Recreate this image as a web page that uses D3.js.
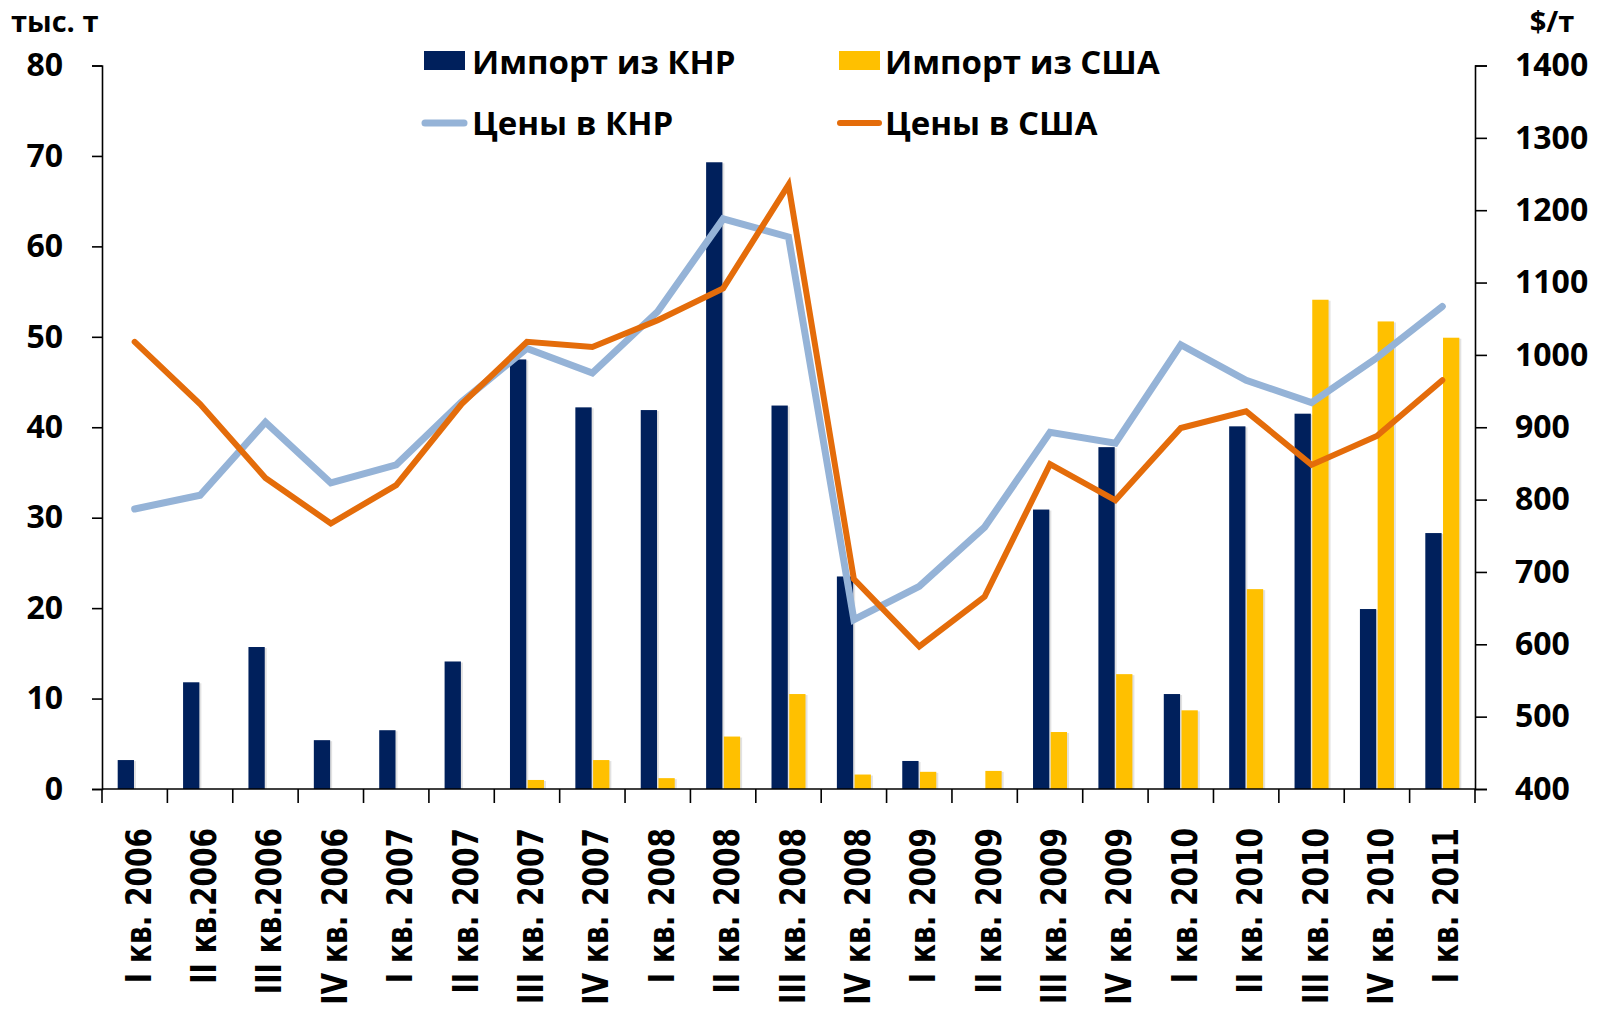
<!DOCTYPE html>
<html>
<head>
<meta charset="utf-8">
<script src="https://cdn.jsdelivr.net/npm/d3@7"></script>
<style>
  body { margin: 0; background: #fff; }
  text { font-family: "Open Sans", "DejaVu Sans", sans-serif; font-weight: 700; fill: #000; }
  .xlab text { font-family: "DejaVu Sans", sans-serif; }
</style>
</head>
<body>
<svg id="chart" width="1605" height="1016"></svg>
<script>
// Quarters (x axis labels)
const quarters = ['I кв. 2006', 'II кв.2006', 'III кв.2006', 'IV кв. 2006',
  'I кв. 2007', 'II кв. 2007', 'III кв. 2007', 'IV кв. 2007',
  'I кв. 2008', 'II кв. 2008', 'III кв. 2008', 'IV кв. 2008',
  'I кв. 2009', 'II кв. 2009', 'III кв. 2009', 'IV кв. 2009',
  'I кв. 2010', 'II кв. 2010', 'III кв. 2010', 'IV кв. 2010', 'I кв. 2011'];

// Import volumes, thousand tonnes (left axis)
const importCN = [3.2, 11.8, 15.7, 5.4, 6.5, 14.1, 47.5, 42.2, 41.9, 69.3, 42.4,
  23.5, 3.1, 0, 30.9, 37.8, 10.5, 40.1, 41.5, 19.9, 28.3];
const importUS = [0, 0, 0, 0, 0, 0, 1.0, 3.2, 1.2, 5.8, 10.5,
  1.6, 1.9, 2.0, 6.3, 12.7, 8.7, 22.1, 54.1, 51.7, 49.9];

// Prices, $/t (right axis)
const priceCN = [787, 806, 907, 823, 848, 935, 1009, 975, 1060, 1188, 1163,
  634, 680, 762, 893, 878, 1014, 965, 934, 996, 1067];
const priceUS = [1018, 932, 830, 767, 820, 932, 1018, 1011, 1048, 1092, 1235,
  690, 597, 666, 849, 799, 899, 922, 848, 888, 965];

const leftTicks = [0, 10, 20, 30, 40, 50, 60, 70, 80];
const rightTicks = [400, 500, 600, 700, 800, 900, 1000, 1100, 1200, 1300, 1400];

const colors = { cn: '#00205C', us: '#FFC000', pcn: '#95B3D7', pus: '#E46C0A' };

const svg = d3.select('#chart');
const margin = { left: 102, right: 130, top: 65.5, bottom: 227 };
const W = +svg.attr('width'), H = +svg.attr('height');
const x0 = margin.left, x1 = W - margin.right, yTop = margin.top, yBot = H - margin.bottom;

const x = d3.scaleBand().domain(quarters).range([x0, x1]).padding(0);
const xs = d3.scaleBand().domain(['cn', 'us'])
  .range([x.bandwidth() / 2 - 17, x.bandwidth() / 2 + 17]).paddingInner(0.08);
const yL = d3.scaleLinear().domain([0, 80]).range([yBot, yTop]);
const yR = d3.scaleLinear().domain([400, 1400]).range([yBot, yTop]);

// bars (with a light shadow like the original)
const series = [['cn', importCN], ['us', importUS]];
series.forEach(([key, vals]) => {
  const g = svg.append('g');
  vals.forEach((v, i) => {
    if (v <= 0) return;
    const bx = x(quarters[i]) + xs(key);
    g.append('rect')
      .attr('x', bx + 2).attr('y', yL(v) + 1)
      .attr('width', xs.bandwidth()).attr('height', yBot - yL(v) - 1)
      .attr('fill', '#cfcfcf').attr('opacity', 0.6);
    g.append('rect')
      .attr('x', bx).attr('y', yL(v))
      .attr('width', xs.bandwidth()).attr('height', yBot - yL(v))
      .attr('fill', colors[key]);
  });
});

// axes
const axL = svg.append('g').attr('transform', `translate(${x0},0)`)
  .call(d3.axisLeft(yL).tickValues(leftTicks).tickSize(10).tickPadding(29));
const axR = svg.append('g').attr('transform', `translate(${x1},0)`)
  .call(d3.axisRight(yR).tickValues(rightTicks).tickFormat(d3.format('d'))
    .tickSize(12).tickPadding(28));
[axL, axR].forEach(a => {
  a.selectAll('path, line').attr('stroke', '#000').attr('stroke-width', 1.6);
  a.selectAll('text').style('font-size', '32px').attr('fill', '#000');
});

const axB = svg.append('g').attr('class', 'xlab').attr('transform', `translate(0,${yBot})`)
  .call(d3.axisBottom(x).tickSize(0));
axB.select('.domain').attr('stroke', '#000').attr('stroke-width', 1.6).attr('d', `M${x0},0H${x1}`);
axB.selectAll('.tick text')
  .attr('x', 0).attr('y', 0).attr('dy', 0)
  .attr('text-anchor', 'end')
  .attr('transform', 'translate(16,39) rotate(-90) scale(0.8,1)')
  .style('font-size', '35px');
// boundary ticks between quarters
const bounds = quarters.map(q => x(q)).concat([x1]);
axB.selectAll('.bound').data(bounds).enter().append('line')
  .attr('x1', d => d).attr('x2', d => d).attr('y1', 0).attr('y2', 14)
  .attr('stroke', '#000').attr('stroke-width', 1.6);

// price lines
const line = scale => d3.line()
  .x((d, i) => x(quarters[i]) + x.bandwidth() / 2)
  .y(d => scale(d));
svg.append('path').datum(priceCN)
  .attr('d', line(yR)).attr('fill', 'none')
  .attr('stroke', colors.pcn).attr('stroke-width', 7)
  .attr('stroke-linejoin', 'miter').attr('stroke-linecap', 'round');
svg.append('path').datum(priceUS)
  .attr('d', line(yR)).attr('fill', 'none')
  .attr('stroke', colors.pus).attr('stroke-width', 6)
  .attr('stroke-linejoin', 'miter').attr('stroke-linecap', 'round');

// units
svg.append('text').attr('x', 11).attr('y', 32).style('font-size', '29px').text('тыс. т');
svg.append('text').attr('x', 1552).attr('y', 32).attr('text-anchor', 'middle')
  .style('font-size', '29px').text('$/т');

// legend
const legend = [
  { label: 'Импорт из КНР', color: colors.cn, type: 'rect', x: 424, y: 74 },
  { label: 'Импорт из США', color: colors.us, type: 'rect', x: 839, y: 74 },
  { label: 'Цены в КНР', color: colors.pcn, type: 'line', x: 422, y: 135 },
  { label: 'Цены в США', color: colors.pus, type: 'line', x: 837, y: 135 }
];
legend.forEach(d => {
  const g = svg.append('g');
  if (d.type === 'rect') {
    g.append('rect').attr('x', d.x).attr('y', d.y - 23).attr('width', 41).attr('height', 19)
      .attr('fill', d.color);
  } else {
    g.append('line').attr('x1', d.x + 3).attr('x2', d.x + 42).attr('y1', d.y - 12).attr('y2', d.y - 12)
      .attr('stroke', d.color).attr('stroke-width', d.color === colors.pcn ? 7 : 6)
      .attr('stroke-linecap', 'round');
  }
  g.append('text').attr('x', 472 + (d.x > 800 ? 413 : 0)).attr('y', d.y)
    .style('font-size', '33px').text(d.label);
});
</script>
</body>
</html>
